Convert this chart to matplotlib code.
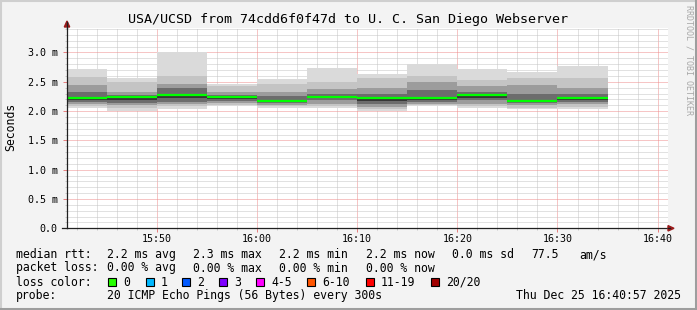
import matplotlib
matplotlib.use("Agg")
import matplotlib.pyplot as plt
from matplotlib.patches import Rectangle, Polygon
from matplotlib.lines import Line2D
import numpy as np

# ---------------- data ----------------
bin_starts = ["15:40", "15:45", "15:50", "15:55", "16:00", "16:05",
              "16:10", "16:15", "16:20", "16:25", "16:30"]
bin_minutes = 5
view_start = "15:41:02"
view_end = "16:41:02"

rtt_max    = [2.72, 2.56, 3.01, 2.47, 2.54, 2.74, 2.63, 2.80, 2.72, 2.66, 2.77]
rtt_p90    = [2.58, 2.50, 2.60, 2.42, 2.46, 2.50, 2.57, 2.60, 2.53, 2.56, 2.56]
rtt_p75    = [2.45, 2.33, 2.47, 2.33, 2.33, 2.37, 2.39, 2.50, 2.42, 2.45, 2.39]
rtt_p60    = [2.33, 2.28, 2.39, 2.28, 2.25, 2.30, 2.30, 2.36, 2.33, 2.30, 2.30]
rtt_median = [2.23, 2.24, 2.27, 2.24, 2.18, 2.24, 2.22, 2.22, 2.27, 2.17, 2.23]
rtt_p40    = [2.16, 2.14, 2.16, 2.17, 2.13, 2.19, 2.12, 2.15, 2.19, 2.13, 2.16]
rtt_p25    = [2.12, 2.10, 2.12, 2.13, 2.10, 2.12, 2.07, 2.12, 2.12, 2.10, 2.12]
rtt_p10    = [2.08, 2.05, 2.09, 2.10, 2.08, 2.08, 2.03, 2.10, 2.08, 2.06, 2.07]
rtt_min    = [2.05, 2.00, 2.03, 2.08, 2.06, 2.05, 2.00, 2.08, 2.05, 2.03, 2.04]

y_ticks = [0.0, 0.5, 1.0, 1.5, 2.0, 2.5, 3.0]
y_tick_labels = ["0.0", "0.5 m", "1.0 m", "1.5 m", "2.0 m", "2.5 m", "3.0 m"]
x_tick_labels = ["15:50", "16:00", "16:10", "16:20", "16:30", "16:40"]

title = "USA/UCSD from 74cdd6f0f47d to U. C. San Diego Webserver"
ylabel = "Seconds"
stats_rtt = ["median rtt:", "2.2 ms avg", "2.3 ms max", "2.2 ms min",
             "2.2 ms now", "0.0 ms sd", "77.5", "am/s"]
stats_loss = ["packet loss:", "0.00 % avg", "0.00 % max", "0.00 % min",
              "0.00 % now"]
loss_labels = ["0", "1", "2", "3", "4-5", "6-10", "11-19", "20/20"]
loss_colors = ["#26ff00", "#00b8ff", "#0059ff", "#7e00ff", "#ff00ff",
               "#ff5500", "#ff0000", "#a10000"]
probe_text = "20 ICMP Echo Pings (56 Bytes) every 300s"
timestamp = "Thu Dec 25 16:40:57 2025"
watermark = "RRDTOOL / TOBI OETIKER"


def to_min(s):
    p = [int(v) for v in s.split(":")]
    while len(p) < 3:
        p.append(0)
    return p[0] * 60 + p[1] + p[2] / 60.0


# ---------------- figure ----------------
W, H = 697, 310
MONO = "DejaVu Sans Mono"
fig = plt.figure(figsize=(W / 100, H / 100), dpi=100, facecolor="#f3f3f3")


def fx(x):
    return x / W


def fy(y):
    return 1 - y / H


# frame shading
fig.add_artist(Line2D([0, 1], [fy(0.5), fy(0.5)], color="#cfcfcf", lw=1.5))
fig.add_artist(Line2D([fx(0.5), fx(0.5)], [0, 1], color="#cfcfcf", lw=1.5))
fig.add_artist(Line2D([0, 1], [fy(308.5), fy(308.5)], color="#9e9e9e", lw=2.2))
fig.add_artist(Line2D([fx(695.5), fx(695.5)], [0, 1], color="#9e9e9e", lw=2.2))

ax_left, ax_right, ax_top, ax_bot = 67, 668, 28.0, 228.3
ax = fig.add_axes([fx(ax_left), fy(ax_bot), (ax_right - ax_left) / W,
                   (ax_bot - ax_top) / H])
ax.set_facecolor("white")

x0 = to_min(view_start)
x1 = to_min(view_end)
ax.set_xlim(x0, x1)
ax.set_ylim(0, 3.418)

starts = np.array([to_min(s) for s in bin_starts])
med = np.array(rtt_median)
p40 = np.array(rtt_p40)
layers = [
    (rtt_min, rtt_max, "#dadada"),
    (rtt_p10, rtt_p90, "#c4c4c4"),
    (rtt_p25, rtt_p75, "#9c9c9c"),
    (rtt_p40, rtt_p60, "#6c6c6c"),
]
for lo, hi, col in layers:
    lo = np.array(lo)
    hi = np.array(hi)
    ax.bar(starts, hi - lo, bottom=lo, width=bin_minutes, align="edge",
           color=col, linewidth=0, zorder=2)
# dark core just below the median
core_lo = (med + p40) / 2
ax.bar(starts, med - core_lo, bottom=core_lo, width=bin_minutes,
       align="edge", color="#363636", linewidth=0, zorder=2.5)
ax.hlines(rtt_median, starts, starts + bin_minutes, colors="#00ff00",
          lw=1.6, zorder=3)

# grid
maj_x = [to_min(s) for s in x_tick_labels]
ax.set_xticks(maj_x)
ax.set_xticklabels(x_tick_labels)
ax.set_xticks(np.arange(to_min("15:42"), x1, 2.0), minor=True)
ax.set_yticks(y_ticks)
ax.set_yticklabels(y_tick_labels)
ax.set_yticks(np.arange(0.1, 3.45, 0.1), minor=True)
ax.grid(which="minor", color="#c4c4c4", linestyle=(0, (1, 1)), lw=0.72, zorder=1)
ax.grid(which="major", color="#ee8c8c", linestyle=(0, (1, 1)), lw=0.72, zorder=1)
ax.set_axisbelow(True)

ax.tick_params(which="major", axis="both", length=2.6, width=0.72,
               color="#e88080", labelsize=7.2, labelcolor="black")
ax.tick_params(which="minor", axis="both", length=1.6, width=0.72,
               color="#c8c8c8")
ax.tick_params(axis="y", which="major", pad=4.2)
ax.tick_params(axis="x", which="major", pad=1.6)
for lbl in ax.get_xticklabels() + ax.get_yticklabels():
    lbl.set_family(MONO)

for side in ["top", "right"]:
    ax.spines[side].set_visible(False)
for side in ["left", "bottom"]:
    ax.spines[side].set_color("#202020")
    ax.spines[side].set_linewidth(0.9)
    ax.spines[side].set_zorder(4)

# axis extensions & arrows
fig.add_artist(Line2D([fx(67), fx(67)], [fy(ax_top), fy(22)], color="#202020", lw=0.9))
fig.add_artist(Line2D([fx(ax_right), fx(670)], [fy(ax_bot), fy(ax_bot)], color="#202020", lw=0.9))
fig.add_artist(Line2D([fx(62), fx(67)], [fy(ax_bot), fy(ax_bot)], color="#202020", lw=0.9))
fig.add_artist(Polygon([(fx(64.3), fy(27)), (fx(69.7), fy(27)), (fx(67), fy(21))],
                       closed=True, color="#9b1b1b", transform=fig.transFigure))
fig.add_artist(Polygon([(fx(668), fy(225.6)), (fx(668), fy(231)), (fx(674), fy(228.3))],
                       closed=True, color="#9b1b1b", transform=fig.transFigure))

# texts
fig.text(fx(348.5), fy(19.3), title, ha="center", va="center",
         fontsize=9.6, family=MONO, color="black")
fig.text(fx(11), fy(127), ylabel, ha="center", va="center", rotation=90,
         fontsize=8.3, family=MONO, color="black")
fig.text(fx(688.5), fy(5), watermark, ha="center", va="top", rotation=270,
         fontsize=6.0, family=MONO, color="#a8a8a8")

FS = 8.3
row_y = [254.7, 268.0, 282.0, 295.3]
rtt_x = [16, 107.3, 193.3, 279.3, 365.7, 451.7, 531, 579.3]
for s, x in zip(stats_rtt, rtt_x):
    fig.text(fx(x), fy(row_y[0]), s, ha="left", va="center", fontsize=FS, family=MONO)
loss_x = [16, 107.3, 193.3, 279.3, 365.7]
for s, x in zip(stats_loss, loss_x):
    fig.text(fx(x), fy(row_y[1]), s, ha="left", va="center", fontsize=FS, family=MONO)

fig.text(fx(16), fy(row_y[2]), "loss color:", ha="left", va="center", fontsize=FS, family=MONO)
box_x = [108.3, 145.7, 182.3, 219.0, 256.3, 307.3, 365.7, 431.0]
for lab, col, bx in zip(loss_labels, loss_colors, box_x):
    fig.add_artist(Rectangle((fx(bx), fy(row_y[2] + 4)), 8 / W, 8 / H,
                             facecolor=col, edgecolor="black", lw=0.8,
                             transform=fig.transFigure))
    fig.text(fx(bx + 15), fy(row_y[2]), lab, ha="left", va="center",
             fontsize=FS, family=MONO)

fig.text(fx(16), fy(row_y[3]), "probe:", ha="left", va="center", fontsize=FS, family=MONO)
fig.text(fx(107.3), fy(row_y[3]), probe_text, ha="left", va="center", fontsize=FS, family=MONO)
fig.text(fx(680.5), fy(row_y[3]), timestamp, ha="right", va="center", fontsize=FS, family=MONO)

fig.savefig("out.png", dpi=100, facecolor=fig.get_facecolor())
